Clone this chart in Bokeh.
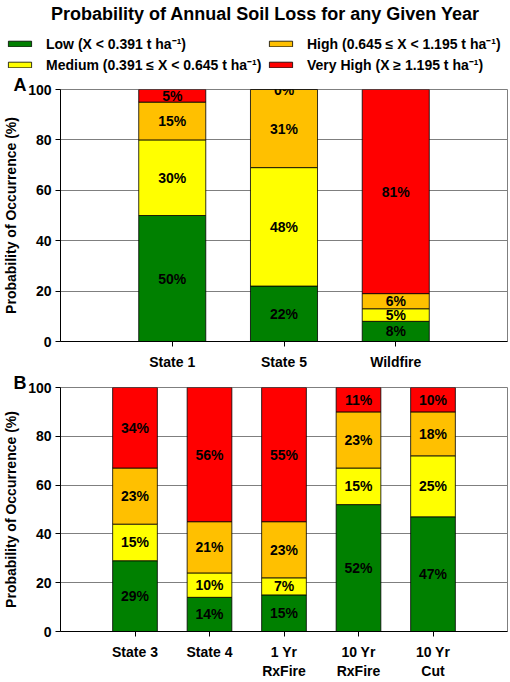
from bokeh.plotting import figure
from bokeh.models import (ColumnDataSource, Range1d, FixedTicker, Legend,
                          LegendItem, Label, Title)
from bokeh.layouts import column
from bokeh.embed import file_html
from bokeh.resources import INLINE
from bokeh.core.properties import value

FONT = "Liberation Sans"

# ---------------- data ----------------
levels = ["low", "medium", "high", "vhigh"]
level_colors = ["#008000", "#FFFF00", "#FFC000", "#FF0000"]
legend_labels = ["Low (X < 0.391 t ha\u207b\u00b9)",
                 "Medium (0.391 \u2264 X < 0.645 t ha\u207b\u00b9)",
                 "High (0.645 \u2264 X < 1.195 t ha\u207b\u00b9)",
                 "Very High (X \u2265 1.195 t ha\u207b\u00b9)"]
title_text = "Probability of Annual Soil Loss for any Given Year"

# Panel A
a_sites = ["State 1", "State 5", "Wildfire"]
a_low = [50, 22, 8]
a_medium = [30, 47, 5]
a_high = [15, 31, 6]
a_vhigh = [5, 0, 81]
a_low_txt = ["50%", "22%", "8%"]
a_medium_txt = ["30%", "48%", "5%"]
a_high_txt = ["15%", "31%", "6%"]
a_vhigh_txt = ["5%", "0%", "81%"]

# Panel B
b_sites = ["State 3", "State 4", "1 Yr\nRxFire", "10 Yr\nRxFire", "10 Yr\nCut"]
b_low = [29, 14, 15, 52, 47]
b_medium = [15, 10, 7, 15, 25]
b_high = [23, 21, 23, 23, 18]
b_vhigh = [33, 55, 55, 10, 10]
b_low_txt = ["29%", "14%", "15%", "52%", "47%"]
b_medium_txt = ["15%", "10%", "7%", "15%", "25%"]
b_high_txt = ["23%", "21%", "23%", "23%", "18%"]
b_vhigh_txt = ["34%", "56%", "55%", "11%", "10%"]

y_ticks = [0, 20, 40, 60, 80, 100]

W = 508

# ---------------- header: title + legend ----------------
hdr = figure(width=W, height=74, x_range=Range1d(0, 1), y_range=Range1d(1, 2),
             output_backend="svg", toolbar_location=None,
             x_axis_location=None, y_axis_location=None,
             min_border=0, outline_line_color=None)
try:
    hdr.frame_align = False
except Exception:
    pass
hdr.grid.grid_line_color = None
# legend key glyphs (zero-height bars kept outside the header's visible range)
proxies = []
for c in level_colors:
    proxies.append(hdr.vbar(x=[0.5], top=[0], bottom=[0], width=0.5,
                            fill_color=c, line_color="#000000",
                            line_width=0.8))
hdr.add_layout(Label(x=265, y=61, x_units="screen", y_units="screen",
                     text=title_text, text_font=FONT, text_font_size="18px",
                     text_font_style="bold", text_align="center",
                     text_baseline="middle", text_color="#000000"))
leg = Legend(items=[LegendItem(label=l, renderers=[r])
                    for l, r in zip(legend_labels, proxies)],
             ncols=2, location=(5, 0),
             border_line_color=None, background_fill_alpha=0,
             glyph_width=29, glyph_height=7, label_standoff=12,
             label_width=218,
             label_text_font=FONT, label_text_font_size="14px",
             label_text_font_style="bold", label_text_color="#000000",
             spacing=2, padding=0, margin=0)
hdr.add_layout(leg)


def make_panel(sites, series, texts, letter, h):
    n = len(sites)
    xs = list(range(1, n + 1))
    data = {"x": xs}
    for k, s in zip(levels, series):
        data[k] = s
    src = ColumnDataSource(data)

    p = figure(width=W, height=h,
               x_range=Range1d(0, n + 1), y_range=Range1d(0, 100),
               output_backend="svg", toolbar_location=None,
               min_border_left=52, min_border_right=1,
               min_border_top=15, min_border_bottom=0)
    p.vbar_stack(levels, x="x", width=0.6, source=src,
                 color=level_colors, line_color="#000000", line_width=0.8)

    # segment labels at segment centres
    lx, ly, lt = [], [], []
    for i in range(n):
        base = 0
        for s, t in zip(series, texts):
            lx.append(xs[i])
            ly.append(base + s[i] / 2.0)
            lt.append(t[i])
            base += s[i]
    p.text(x=lx, y=ly, text=lt, text_align="center", text_baseline="middle",
           text_font=value(FONT), text_font_size="14px",
           text_font_style="bold", text_color="#000000")

    # axes
    p.xaxis.ticker = FixedTicker(ticks=xs)
    p.xaxis.major_label_overrides = {x: s for x, s in zip(xs, sites)}
    p.yaxis.ticker = FixedTicker(ticks=y_ticks)
    p.yaxis.axis_label = "Probability of Occurrence (%)"
    for ax in (p.xaxis, p.yaxis):
        ax.major_label_text_font = FONT
        ax.major_label_text_font_size = "14px"
        ax.major_label_text_font_style = "bold"
        ax.major_label_text_color = "#000000"
        ax.axis_label_text_font = FONT
        ax.axis_label_text_font_size = "14px"
        ax.axis_label_text_font_style = "bold"
        ax.axis_label_text_color = "#000000"
        ax.major_tick_out = 5
        ax.major_tick_in = 0
        ax.minor_tick_line_color = None
        ax.axis_line_color = "#000000"
        ax.major_tick_line_color = "#000000"
    p.yaxis.major_label_standoff = 4
    p.yaxis.axis_label_standoff = 6
    p.xaxis.major_label_standoff = 7

    p.xgrid.grid_line_color = None
    p.ygrid.grid_line_color = "#7f7f7f"
    p.ygrid.grid_line_width = 1
    p.outline_line_color = "#7f7f7f"

    t = Title(text=letter, align="left", offset=-47, standoff=0,
              text_font=FONT, text_font_size="18px",
              text_font_style="bold", text_color="#000000")
    try:
        t.standoff = -10
    except Exception:
        pass
    p.add_layout(t, "above")
    return p


pa = make_panel(a_sites, [a_low, a_medium, a_high, a_vhigh],
                [a_low_txt, a_medium_txt, a_high_txt, a_vhigh_txt],
                "A", 298)
pb = make_panel(b_sites, [b_low, b_medium, b_high, b_vhigh],
                [b_low_txt, b_medium_txt, b_high_txt, b_vhigh_txt],
                "B", 309)

layout = column(hdr, pa, pb, spacing=0)
open("out.html", "w").write(file_html(layout, INLINE))
